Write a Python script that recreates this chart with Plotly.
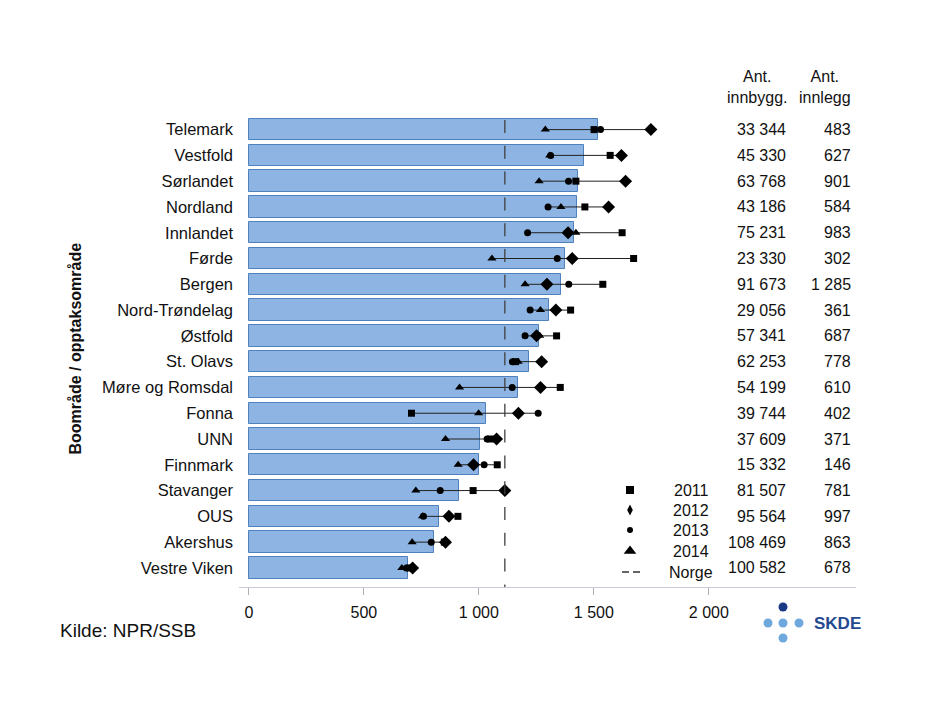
import plotly.graph_objects as go

# ---------------- data ----------------
REGIONS = ["Telemark", "Vestfold", "Sørlandet", "Nordland", "Innlandet", "Førde",
           "Bergen", "Nord-Trøndelag", "Østfold", "St. Olavs", "Møre og Romsdal",
           "Fonna", "UNN", "Finnmark", "Stavanger", "OUS", "Akershus", "Vestre Viken"]

MEAN_RATE = [1519, 1458, 1429, 1425, 1413, 1374, 1358, 1307, 1262, 1219, 1172,
             1033, 1006, 1001, 912, 828, 806, 693]

Y2011 = [1501, 1571, 1422, 1461, 1623, 1673, 1539, 1399, 1338, 1160, 1354,
         707, 1050, 1080, 975, 909, 850, 700]
Y2012 = [1748, 1620, 1638, 1564, 1388, 1406, 1296, 1335, 1251, 1273, 1268,
         1172, 1077, 977, 1113, 870, 855, 712]
Y2013 = [1529, 1312, 1390, 1301, 1212, 1341, 1391, 1223, 1201, 1146, 1145,
         1258, 1036, 1023, 832, 759, 793, 685]
Y2014 = [1289, 1308, 1262, 1357, 1422, 1057, 1201, 1268, 1265, 1171, 916,
         999, 855, 910, 726, 755, 710, 665]

NORGE = 1113

INNBYGG = [33344, 45330, 63768, 43186, 75231, 23330, 91673, 29056, 57341, 62253,
           54199, 39744, 37609, 15332, 81507, 95564, 108469, 100582]
INNLEGG = [483, 627, 901, 584, 983, 302, 1285, 361, 687, 778, 610, 402, 371, 146,
           781, 997, 863, 678]

X_TICKS = [0, 500, 1000, 1500, 2000]
YEARS = ["2011", "2012", "2013", "2014"]
LEGEND_NAMES = YEARS + ["Norge"]


def fmt(v):
    return f"{v:,}".replace(",", " ")


FONT = "Liberation Sans, Arial, sans-serif"

# page body has an 8px margin: the figure is drawn at (8, 8)
OFF = 8
PL, PR, PT, PB = 239, 856, 110, 587          # plot area in window pixels
W, H = 930 - OFF, 703 - OFF


def px2paper(px, py):
    return (px - PL) / (PR - PL), (PB - py) / (PB - PT)


fig = go.Figure()

# bars
fig.add_trace(go.Bar(
    y=REGIONS, x=MEAN_RATE, orientation="h", width=0.83,
    marker=dict(color="#8DB4E2", line=dict(color="#4F81BD", width=1)),
    showlegend=False, hoverinfo="skip"))

# connecting lines (min - max for each region)
lx, ly = [], []
for i, r in enumerate(REGIONS):
    vals = [Y2011[i], Y2012[i], Y2013[i], Y2014[i]]
    lx += [min(vals), max(vals), None]
    ly += [r, r, None]
fig.add_trace(go.Scatter(x=lx, y=ly, mode="lines",
                         line=dict(color="#222222", width=1),
                         showlegend=False, hoverinfo="skip"))

series = [
    (Y2011, "square", 7, "square", 8),
    (Y2012, "diamond", 10, "diamond-tall", 8),
    (Y2013, "circle", 7, "circle", 6),
    (Y2014, "triangle-up", 8, "triangle-up", 11),
]
for (vals, sym, size, _, _), name in zip(series, YEARS):
    fig.add_trace(go.Scatter(x=vals, y=REGIONS, mode="markers", name=name,
                             marker=dict(symbol=sym, size=size, color="black"),
                             showlegend=False))

# Norge reference line
fig.add_shape(type="line", xref="x", yref="paper", x0=NORGE, x1=NORGE,
              y0=px2paper(0, 120)[1], y1=0.0, layer="above",
              line=dict(color="#404040", width=1.3, dash="13px,12.8px"))

# ---- manual legend on an overlay axis (paper-like 0..1 coordinates) ----
LEG_ROWS_PX = [490, 510, 530, 551, 572]
leg_sym_x = px2paper(630, 0)[0]
for (vals, _, _, lsym, lsize), name, rowpx in zip(series, YEARS, LEG_ROWS_PX):
    fig.add_trace(go.Scatter(x=[leg_sym_x], y=[px2paper(0, rowpx)[1]], mode="markers",
                             name=name, xaxis="x2", yaxis="y2",
                             marker=dict(symbol=lsym, size=lsize, color="black"),
                             showlegend=False, hoverinfo="skip"))
ny = px2paper(0, LEG_ROWS_PX[4])[1]
fig.add_trace(go.Scatter(x=[px2paper(622, 0)[0], px2paper(641, 0)[0]], y=[ny, ny],
                         mode="lines", name="Norge", xaxis="x2", yaxis="y2",
                         line=dict(color="#333333", width=1.3, dash="7px,4px"),
                         showlegend=False, hoverinfo="skip"))

annotations = []
for name, rowpx in zip(LEGEND_NAMES, LEG_ROWS_PX):
    annotations.append(dict(x=px2paper(691, 0)[0], xref="paper",
                            y=px2paper(0, rowpx)[1], yref="paper", text=name,
                            xanchor="center", yanchor="middle", showarrow=False,
                            font=dict(size=16, color="#111")))

# table
for i, r in enumerate(REGIONS):
    annotations.append(dict(x=px2paper(788, 0)[0], xref="paper", y=r, yref="y",
                            text=fmt(INNBYGG[i]), xanchor="right", yanchor="middle",
                            showarrow=False, font=dict(size=16, color="#111")))
    annotations.append(dict(x=px2paper(853, 0)[0], xref="paper", y=r, yref="y",
                            text=fmt(INNLEGG[i]), xanchor="right", yanchor="middle",
                            showarrow=False, font=dict(size=16, color="#111")))
annotations.append(dict(x=px2paper(757, 0)[0], xref="paper", y=px2paper(0, 87)[1],
                        yref="paper", text="Ant.<br>innbygg.", showarrow=False,
                        align="center", xanchor="center", yanchor="middle",
                        font=dict(size=16, color="#111")))
annotations.append(dict(x=px2paper(825, 0)[0], xref="paper", y=px2paper(0, 87)[1],
                        yref="paper", text="Ant.<br>innlegg", showarrow=False,
                        align="center", xanchor="center", yanchor="middle",
                        font=dict(size=16, color="#111")))
# axis title
annotations.append(dict(x=px2paper(75, 0)[0], xref="paper", y=0.5, yref="paper",
                        text="<b>Boområde / opptaksområde</b>", textangle=-90,
                        showarrow=False, xanchor="center", yanchor="middle",
                        font=dict(size=16, color="#111")))
# source
annotations.append(dict(x=px2paper(58, 0)[0], xref="paper", y=px2paper(0, 630)[1],
                        yref="paper", text="Kilde: NPR/SSB", showarrow=False,
                        xanchor="left", yanchor="middle", font=dict(size=19, color="#111")))
# SKDE logo text
annotations.append(dict(x=px2paper(812, 0)[0], xref="paper", y=px2paper(0, 623)[1],
                        yref="paper", text="<b>SKDE</b>", showarrow=False, xanchor="left",
                        yanchor="middle", font=dict(size=17, color="#24498F")))
fig.update_layout(annotations=annotations)

# SKDE logo dots
dots = [(783, 607, "#1B3A86"), (768, 623, "#6FA8DC"), (783, 623, "#6FA8DC"),
        (799, 623, "#6FA8DC"), (783, 638, "#6FA8DC")]
for cx, cy, col in dots:
    x0, y0 = px2paper(cx - 4.5, cy + 4.5)
    x1, y1 = px2paper(cx + 4.5, cy - 4.5)
    fig.add_shape(type="circle", xref="paper", yref="paper", x0=x0, y0=y0, x1=x1, y1=y1,
                  fillcolor=col, line=dict(width=0))

fig.update_layout(
    width=W, height=H,
    margin=dict(l=PL - OFF, r=W - (PR - OFF), t=PT - OFF, b=H - (PB - OFF)),
    paper_bgcolor="white", plot_bgcolor="white",
    font=dict(family=FONT, size=16, color="#111"),
    separators=", ",
    bargap=0,
    showlegend=False,
    xaxis=dict(range=[-43, 2640], tickvals=X_TICKS, tickformat=",d",
               showline=True, linecolor="#C8CCD4", linewidth=1,
               ticks="outside", ticklen=7, tickcolor="#B0B0B0",
               showgrid=False, zeroline=False, ticklabelstandoff=4,
               tickfont=dict(size=16)),
    yaxis=dict(type="category", categoryorder="array", categoryarray=REGIONS,
               range=[17.74, -0.76], showline=False, showgrid=False,
               ticks="", ticklabelstandoff=5, tickfont=dict(size=16.5)),
    xaxis2=dict(overlaying="x", range=[0, 1], visible=False, fixedrange=True),
    yaxis2=dict(overlaying="y", range=[0, 1], visible=False, fixedrange=True),
)

fig.write_html("out.html")
